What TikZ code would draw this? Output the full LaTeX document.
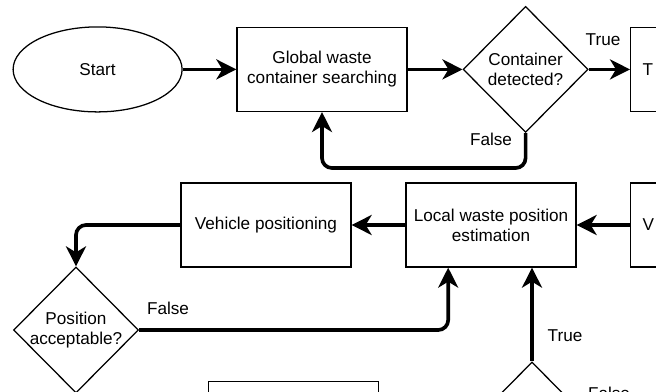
\documentclass[tikz,border=0pt]{standalone}
\usepackage{fontspec}
\setmainfont{Liberation Sans}
\usetikzlibrary{arrows.meta,shapes.geometric,calc}
\begin{document}
\begin{tikzpicture}[
    font=\fontsize{12.2}{14.2}\selectfont,
    block/.style={draw, line width=0.9pt, align=center, inner sep=2pt, minimum width=4.25cm, minimum height=2.1cm},
    cutblock/.style={block, anchor=west, text width=3.65cm, align=left, inner xsep=0.3cm},
    terminal/.style={draw, line width=0.9pt, ellipse, inner sep=0pt, minimum width=4.225cm, minimum height=2.125cm},
    decision/.style={draw, line width=0.9pt, diamond, aspect=1, inner sep=-3pt, align=center, minimum width=3.125cm, minimum height=3.15cm},
    lbl/.style={inner sep=0pt},
    arr/.style={-{Stealth[length=0.5cm, width=0.5cm, inset=0.15cm]}, line width=2.6pt, rounded corners=0.25cm}
]
\useasboundingbox (0,0) rectangle (16.4,9.775);
\clip (0,0) rectangle (16.4,9.775);

\node[terminal] (start) at (2.44,8.04) {Start};
\node[block] (glob) at (8.05,8.04) {Global waste\\container searching};
\node[decision] (det) at (13.14,8.04) {Container\\detected?};
\node[cutblock] (tgt) at (15.75,8.04) {T};

\node[block] (veh) at (6.65,4.15) {Vehicle positioning};
\node[block] (loc) at (12.275,4.15) {Local waste position\\estimation};
\node[cutblock] (vbx) at (15.75,4.15) {V};

\node[decision] (pos) at (1.9,1.525) {Position\\acceptable?};
\node[decision] (chk) at (13.3,-0.85) {};
\node[block] (nxt) at (7.34,-0.81) {};

\node[lbl] (ltrue) at (15.075,8.775) {True};
\node[lbl] (lfalse) at (12.275,6.29) {False};
\node[lbl] (lfalsepos) at (4.2,2.075) {False};
\node[lbl] (ltruechk) at (14.125,1.375) {True};
\node[lbl] (lfalsechk) at (15.225,-0.05) {False};

\draw[arr] (start) -- (glob);
\draw[arr] (glob) -- (det);
\draw[arr] (det) -- (tgt);
\draw[arr] (det.south) -- ++(0,-0.875) -| (glob.south);
\draw[arr] (vbx) -- (loc);
\draw[arr] (loc) -- (veh);
\draw[arr] (veh.west) -| (pos.north);
\draw[arr] (pos.east) -| ($(loc.south west)!0.25!(loc.south east)$);
\draw[arr] (chk.north) -- (chk.north |- loc.south);
\end{tikzpicture}
\end{document}
